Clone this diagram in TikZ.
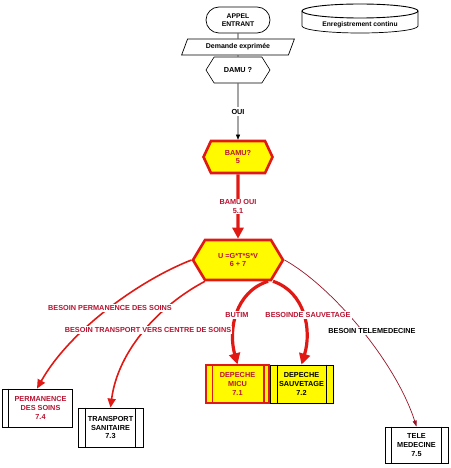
\documentclass[tikz,border=0pt]{standalone}
\usepackage{fontspec}
\setmainfont{Liberation Sans}
\usetikzlibrary{shapes.symbols,shapes.geometric,shapes.misc,arrows.meta,calc}
\definecolor{lred}{RGB}{225,25,20}
\definecolor{tred}{RGB}{185,20,50}
\definecolor{yel}{RGB}{255,250,0}
\definecolor{dred}{RGB}{150,20,40}
\begin{document}
\begin{tikzpicture}[x=1pt,y=-1pt,
  every node/.style={font=\fontsize{7.3}{8.8}\selectfont\bfseries, align=center, inner sep=0pt},
  hexw/.style={signal, signal to=east and west, draw=black, fill=white, line width=0.6pt},
  hexy/.style={signal, signal to=east and west, draw=lred, fill=yel, line width=2.6pt, text=tred},
  procbox/.style={draw=black, line width=0.8pt, fill=white},
  lab/.style={fill=white, inner sep=1pt, text=tred, font=\fontsize{7.3}{8.8}\selectfont\bfseries},
  bigarr/.style={draw=lred, line width=3.2pt, -{Triangle[length=11pt,width=11pt]}},
  curarr/.style={draw=lred, line width=1.6pt, -{Triangle[length=9pt,width=8pt]}},
  thinarr/.style={draw=black, line width=0.6pt, -{Triangle[length=5pt,width=4pt]}}
]
\useasboundingbox (0,0) rectangle (450,468);

% continuous recording disk
\draw[line width=0.7pt, fill=white] (302,11) -- (302,26) arc[start angle=180, end angle=360, x radius=58pt, y radius=7pt] -- (418,11);
\draw[line width=0.9pt, fill=white] (360,11) ellipse[x radius=58pt, y radius=7pt];
\node[font=\fontsize{6.7}{7}\selectfont\bfseries] (rec) at (360,25) {Enregistrement continu};

% top of flow
\node[rounded rectangle, draw=black, line width=0.7pt, minimum width=64pt, minimum height=26pt,
      font=\fontsize{6.8}{8}\selectfont\bfseries] (appel) at (238,20) {APPEL\\ENTRANT};
\node[trapezium, trapezium left angle=60, trapezium right angle=120, trapezium stretches=true,
      draw=black, line width=0.7pt, fill=white, minimum width=113pt, minimum height=16pt,
      font=\fontsize{7}{8}\selectfont\bfseries] (dem) at (238,47) {Demande exprimée};
\node[hexw, minimum width=64pt, minimum height=26pt, signal pointer angle=116] (damu) at (238,70) {DAMU ?};
\node[hexy, minimum width=69pt, minimum height=32pt, signal pointer angle=130] (bamu) at (238,157) {BAMU?\\5};
\node[hexy, minimum width=90pt, minimum height=40pt, signal pointer angle=118] (U) at (238,260) {U =G*T*S*V\\6 + 7};

\draw[line width=0.7pt] (appel) -- (dem);
\draw[line width=0.7pt] (dem) -- (damu);
\draw[thinarr] (damu) -- node[fill=white, inner sep=1.5pt] (oui) {OUI} (bamu);
\draw[bigarr] (bamu) -- node[lab] (bamuoui) {BAMU OUI\\5.1} (U);

% destination boxes
\node[procbox, minimum width=70pt, minimum height=38pt, text=tred] (perm) at (37,408) {\hspace*{7pt}PERMANENCE\\\hspace*{7pt}DES SOINS\\\hspace*{7pt}7.4};
\draw[line width=0.8pt] ($(perm.north west)+(7,0)$) -- ($(perm.south west)+(7,0)$);

\node[procbox, minimum width=65pt, minimum height=39pt] (trans) at (110.5,427.5) {TRANSPORT\\SANITAIRE\\7.3};
\draw[line width=0.8pt] ($(trans.north west)+(8,0)$) -- ($(trans.south west)+(8,0)$);
\draw[line width=0.8pt] ($(trans.north east)+(-8,0)$) -- ($(trans.south east)+(-8,0)$);

\node[procbox, fill=yel, minimum width=63pt, minimum height=38pt] (sauv) at (301.5,384) {DEPECHE\\SAUVETAGE\\7.2};
\draw[line width=0.8pt] ($(sauv.north west)+(8,0)$) -- ($(sauv.south west)+(8,0)$);
\draw[line width=0.8pt] ($(sauv.north east)+(-7,0)$) -- ($(sauv.south east)+(-7,0)$);

\node[draw=lred, fill=yel, line width=1.4pt, minimum width=63pt, minimum height=38pt, text=tred] (micu) at (237.5,384) {DEPECHE\\MICU\\7.1};
\draw[lred, line width=1.6pt] ($(micu.north west)+(7,0)$) -- ($(micu.south west)+(7,0)$);
\draw[lred, line width=1.6pt] ($(micu.north east)+(-6,0)$) -- ($(micu.south east)+(-6,0)$);

\node[procbox, minimum width=63pt, minimum height=36pt] (tele) at (416.5,445) {TELE\\MEDECINE\\7.5};
\draw[line width=0.8pt] ($(tele.north west)+(7,0)$) -- ($(tele.south west)+(7,0)$);
\draw[line width=0.8pt] ($(tele.north east)+(-7,0)$) -- ($(tele.south east)+(-7,0)$);

% connectors from U
\draw[curarr] (U.west) .. controls (140,280) and (70,330) .. (perm.north);
\draw[curarr] ($(U.south)+(-33,0)$) .. controls (160,305) and (118,350) .. (trans.north);
\draw[bigarr] ($(U.south)+(30,0)$) .. controls (235,292) and (228,330) .. (micu.north);
\draw[bigarr] ($(U.south)+(35,0)$) .. controls (305,292) and (312,330) .. (sauv.north);
\draw[draw=dred, line width=0.7pt, -{Triangle[length=6pt,width=4pt]}] (U.east) .. controls (330,285) and (395,360) .. (tele.north);

% labels
\node[lab] (l1) at (110,308) {BESOIN PERMANENCE DES SOINS};
\node[lab] (l2) at (148,330) {BESOIN TRANSPORT VERS CENTRE DE SOINS};
\node[lab] (l3) at (237,315) {BUTIM};
\node[lab] (l4) at (308,315) {BESOINDE SAUVETAGE};
\node[lab, text=black] (l5) at (372,331) {BESOIN TELEMEDECINE};
\end{tikzpicture}
\end{document}
